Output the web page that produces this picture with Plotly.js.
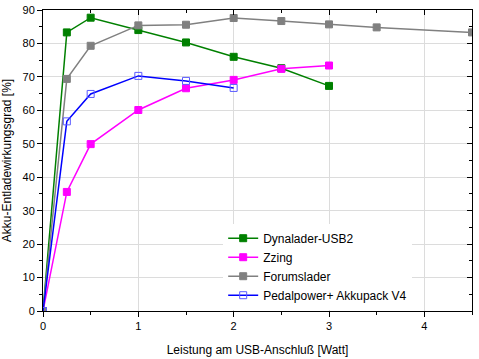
<!DOCTYPE html>
<html><head><meta charset="utf-8">
<script src="https://cdn.plot.ly/plotly-3.0.1.min.js"></script>
<style>html,body{margin:0;padding:0;background:#fff}</style>
</head><body><div id="chart" style="width:479px;height:359px"></div>
<script>
var seriesNames = ["Dynalader-USB2", "Zzing", "Forumslader", "Pedalpower+ Akkupack V4"];
var dynaX = [0, 0.25, 0.5, 1, 1.5, 2, 2.5, 3];
var dynaY = [0, 83.3, 87.7, 84.0, 80.3, 76.0, 72.6, 67.3];
var zzingX = [0, 0.25, 0.5, 1, 1.5, 2, 2.5, 3];
var zzingY = [0, 35.6, 49.9, 60.1, 66.6, 69.1, 72.4, 73.4];
var forumX = [0, 0.25, 0.5, 1, 1.5, 2, 2.5, 3, 3.5, 4.5];
var forumY = [0, 69.4, 79.3, 85.4, 85.6, 87.6, 86.7, 85.7, 84.8, 83.3];
var pedalX = [0, 0.25, 0.5, 1, 1.5, 2];
var pedalY = [0, 56.7, 64.9, 70.3, 68.8, 66.7];
var xTitle = "Leistung am USB-Anschluß [Watt]";
var yTitle = "Akku-Entladewirkungsgrad [%]";

function tr(name, x, y, color, sym, mcolor) {
  return {type: 'scatter', mode: 'lines+markers', name: name, x: x, y: y,
    line: {color: color, width: 1.5},
    marker: {symbol: sym, size: 7, color: mcolor || color, line: {color: mcolor || color, width: 1}}};
}
var data = [
  tr(seriesNames[0], dynaX, dynaY, '#008000', 'square'),
  tr(seriesNames[1], zzingX, zzingY, '#ff00ff', 'square'),
  tr(seriesNames[2], forumX, forumY, '#808080', 'square'),
  tr(seriesNames[3], pedalX, pedalY, '#0000ff', 'square-open', '#5a5aff')
];
var font = {family: 'Liberation Sans, Arial, sans-serif', size: 11, color: '#000'};
var layout = {
  width: 479, height: 359,
  margin: {l: 43, r: 7, t: 10, b: 48},
  paper_bgcolor: '#fff', plot_bgcolor: '#fff',
  font: font,
  showlegend: true,
  legend: {x: 0.42, y: 0.29, xanchor: 'left', yanchor: 'top', bgcolor: '#fff',
    font: {family: font.family, size: 12}, tracegroupgap: 0, itemwidth: 30},
  xaxis: {range: [0, 4.5], dtick: 1, tick0: 0, showgrid: true, gridcolor: '#dcdcdc', gridwidth: 1,
    zeroline: false, showline: true, linecolor: '#000', linewidth: 1,
    ticks: 'outside', ticklen: 5, tickcolor: '#000',
    minor: {dtick: 0.5, ticks: 'outside', ticklen: 3, tickcolor: '#000', showgrid: false},
    title: {text: xTitle, font: {family: font.family, size: 12}, standoff: 14}},
  yaxis: {range: [0, 90], dtick: 10, tick0: 0, showgrid: true, gridcolor: '#dcdcdc', gridwidth: 1,
    zeroline: false, showline: true, linecolor: '#000', linewidth: 1,
    ticks: 'outside', ticklen: 5, tickcolor: '#000',
    minor: {dtick: 5, ticks: 'outside', ticklen: 3, tickcolor: '#000', showgrid: false},
    title: {text: yTitle, font: {family: font.family, size: 12}, standoff: 8}},
  xaxis2: {range: [0, 4.5], overlaying: 'x', side: 'top', dtick: 1, tick0: 0, showgrid: false,
    zeroline: false, showline: true, linecolor: '#000', linewidth: 1, showticklabels: false,
    ticks: 'inside', ticklen: 5, tickcolor: '#000',
    minor: {dtick: 0.5, ticks: 'inside', ticklen: 3, tickcolor: '#000', showgrid: false}},
  yaxis2: {range: [0, 90], overlaying: 'y', side: 'right', dtick: 10, tick0: 0, showgrid: false,
    zeroline: false, showline: true, linecolor: '#000', linewidth: 1, showticklabels: false,
    ticks: 'inside', ticklen: 5, tickcolor: '#000',
    minor: {dtick: 5, ticks: 'inside', ticklen: 3, tickcolor: '#000', showgrid: false}}
};
data.push({type: 'scatter', x: [], y: [], xaxis: 'x2', yaxis: 'y2', showlegend: false, hoverinfo: 'skip'});
Plotly.newPlot('chart', data, layout, {displayModeBar: false, staticPlot: true});
</script></body></html>
